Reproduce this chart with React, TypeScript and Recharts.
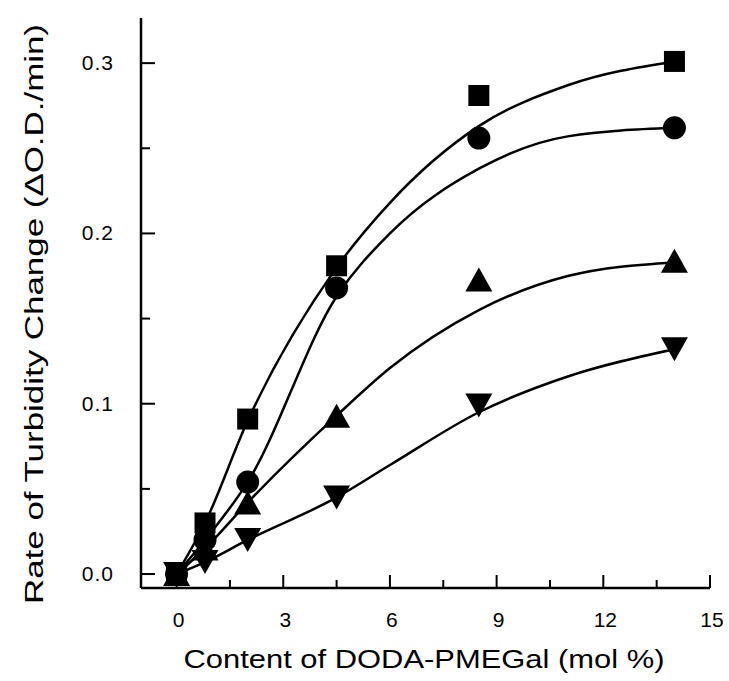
import React from 'react';
import { ComposedChart, Line, Scatter, XAxis, YAxis } from 'recharts';

// measured points
const pointX = [0, 0.8, 2, 4.5, 8.5, 14];
const squareY = [0, 0.03, 0.091, 0.181, 0.281, 0.301];
const circleY = [0, 0.02, 0.054, 0.168, 0.256, 0.262];
const upTriY = [0, 0.015, 0.042, 0.093, 0.173, 0.184];
const downTriY = [0, 0.007, 0.02, 0.045, 0.099, 0.132];

// fitted curves
const fitX = [0, 0.8, 2, 4.5, 6, 8.5, 11, 14];
const squareFit = [0, 0.03, 0.09, 0.18, 0.218, 0.263, 0.287, 0.301];
const circleFit = [0, 0.02, 0.054, 0.163, 0.2, 0.238, 0.257, 0.262];
const upTriFit = [0, 0.015, 0.042, 0.093, 0.121, 0.155, 0.175, 0.183];
const downTriFit = [0, 0.007, 0.02, 0.045, 0.064, 0.095, 0.116, 0.132];

const xTicks = [0, 1.5, 3, 4.5, 6, 7.5, 9, 10.5, 12, 13.5, 15];
const xMajor = [0, 3, 6, 9, 12, 15];
const yTicks = [0, 0.05, 0.1, 0.15, 0.2, 0.25, 0.3];
const yMajor = [0, 0.1, 0.2, 0.3];

const FONT = '"Liberation Sans", Arial, Helvetica, sans-serif';

const toPts = (xs: number[], ys: number[]) => xs.map((x, i) => ({ x, y: ys[i] }));
const isMajor = (v: number, list: number[]) => list.some(m => Math.abs(m - v) < 1e-6);

const BottomTick = ({ x, y, payload }: any) => {
  const major = isMajor(payload.value, xMajor);
  return (
    <g>
      <line x1={x} x2={x} y1={y} y2={y - (major ? 13 : 8)} stroke="#000" strokeWidth={2} />
      {major && (
        <text x={x + 2} y={y + 39} textAnchor="middle" fontSize={21} fontFamily={FONT} fill="#000">
          {payload.value}
        </text>
      )}
    </g>
  );
};

const TopTick = ({ x, y, payload }: any) => {
  const major = isMajor(payload.value, xMajor);
  return <line x1={x} x2={x} y1={y} y2={y + (major ? 13 : 8)} stroke="#000" strokeWidth={2} />;
};

const LeftTick = ({ x, y, payload }: any) => {
  const major = isMajor(payload.value, yMajor);
  return (
    <g>
      <line x1={x} x2={x + (major ? 14 : 9)} y1={y} y2={y} stroke="#000" strokeWidth={2} />
      {major && (
        <text
          x={x - 27}
          y={y + 7}
          textAnchor="end"
          fontSize={21}
          letterSpacing={1}
          fontFamily={FONT}
          fill="#000"
        >
          {payload.value.toFixed(1)}
        </text>
      )}
    </g>
  );
};

const RightTick = ({ x, y, payload }: any) => {
  const major = isMajor(payload.value, yMajor);
  return <line x1={x} x2={x - (major ? 14 : 9)} y1={y} y2={y} stroke="#000" strokeWidth={2} />;
};

const SquareDot = ({ cx, cy }: any) => (
  <rect x={cx - 10.5} y={cy - 10.5} width={21} height={21} fill="#000" />
);
const CircleDot = ({ cx, cy }: any) => <circle cx={cx} cy={cy} r={11.5} fill="#000" />;
const UpDot = ({ cx, cy }: any) => (
  <polygon points={`${cx},${cy - 12} ${cx + 13.5},${cy + 12} ${cx - 13.5},${cy + 12}`} fill="#000" />
);
const DownDot = ({ cx, cy }: any) => (
  <polygon points={`${cx},${cy + 12} ${cx + 13.5},${cy - 12} ${cx - 13.5},${cy - 12}`} fill="#000" />
);

const fits = [squareFit, circleFit, upTriFit, downTriFit];
const series = [
  { ys: squareY, shape: SquareDot },
  { ys: circleY, shape: CircleDot },
  { ys: upTriY, shape: UpDot },
  { ys: downTriY, shape: DownDot },
];

const xDomain = [-1, 15];
const yDomain = [-0.0082, 0.3265];
const axisLine = { stroke: '#000', strokeWidth: 2.5 };

export default function App() {
  return (
    <div style={{ position: 'absolute', left: 0, top: 0, width: 729, height: 681, background: '#fff' }}>
      <ComposedChart width={729} height={681} margin={{ top: 18, right: 19, left: 0, bottom: 0 }}>
        <XAxis
          dataKey="x"
          type="number"
          domain={xDomain}
          ticks={xTicks}
          interval={0}
          allowDataOverflow
          height={93}
          tickSize={0}
          tickMargin={0}
          tickLine={false}
          axisLine={axisLine}
          tick={<BottomTick />}
        />
        <XAxis
          xAxisId="top"
          orientation="top"
          type="number"
          domain={xDomain}
          ticks={xTicks}
          interval={0}
          allowDataOverflow
          height={0}
          tickSize={0}
          tickMargin={0}
          tickLine={false}
          axisLine={axisLine}
          tick={<TopTick />}
        />
        <YAxis
          dataKey="y"
          type="number"
          domain={yDomain}
          ticks={yTicks}
          interval={0}
          allowDataOverflow
          width={141}
          tickSize={0}
          tickMargin={0}
          tickLine={false}
          axisLine={axisLine}
          tick={<LeftTick />}
        />
        <YAxis
          yAxisId="right"
          orientation="right"
          type="number"
          domain={yDomain}
          ticks={yTicks}
          interval={0}
          allowDataOverflow
          width={0}
          tickSize={0}
          tickMargin={0}
          tickLine={false}
          axisLine={axisLine}
          tick={<RightTick />}
        />
        {fits.map((f, i) => (
          <Line
            key={'fit' + i}
            data={toPts(fitX, f)}
            dataKey="y"
            type="monotone"
            stroke="#000"
            strokeWidth={2.5}
            dot={false}
            activeDot={false}
            isAnimationActive={false}
          />
        ))}
        {series.map((s, i) => (
          <Scatter
            key={'pts' + i}
            data={toPts(pointX, s.ys)}
            dataKey="y"
            shape={s.shape}
            isAnimationActive={false}
          />
        ))}
      </ComposedChart>
      <svg
        width={729}
        height={681}
        style={{ position: 'absolute', left: 0, top: 0, pointerEvents: 'none' }}
      >
        <text
          x={424}
          y={668}
          textAnchor="middle"
          fontSize={26}
          fontFamily={FONT}
          fill="#000"
          textLength={481}
          lengthAdjust="spacingAndGlyphs"
        >
          Content of DODA-PMEGal (mol %)
        </text>
        <text
          transform="translate(43, 314) rotate(-90)"
          x={0}
          y={0}
          textAnchor="middle"
          fontSize={26}
          fontFamily={FONT}
          fill="#000"
          textLength={580}
          lengthAdjust="spacingAndGlyphs"
        >
          Rate of Turbidity Change (ΔO.D./min)
        </text>
      </svg>
    </div>
  );
}
